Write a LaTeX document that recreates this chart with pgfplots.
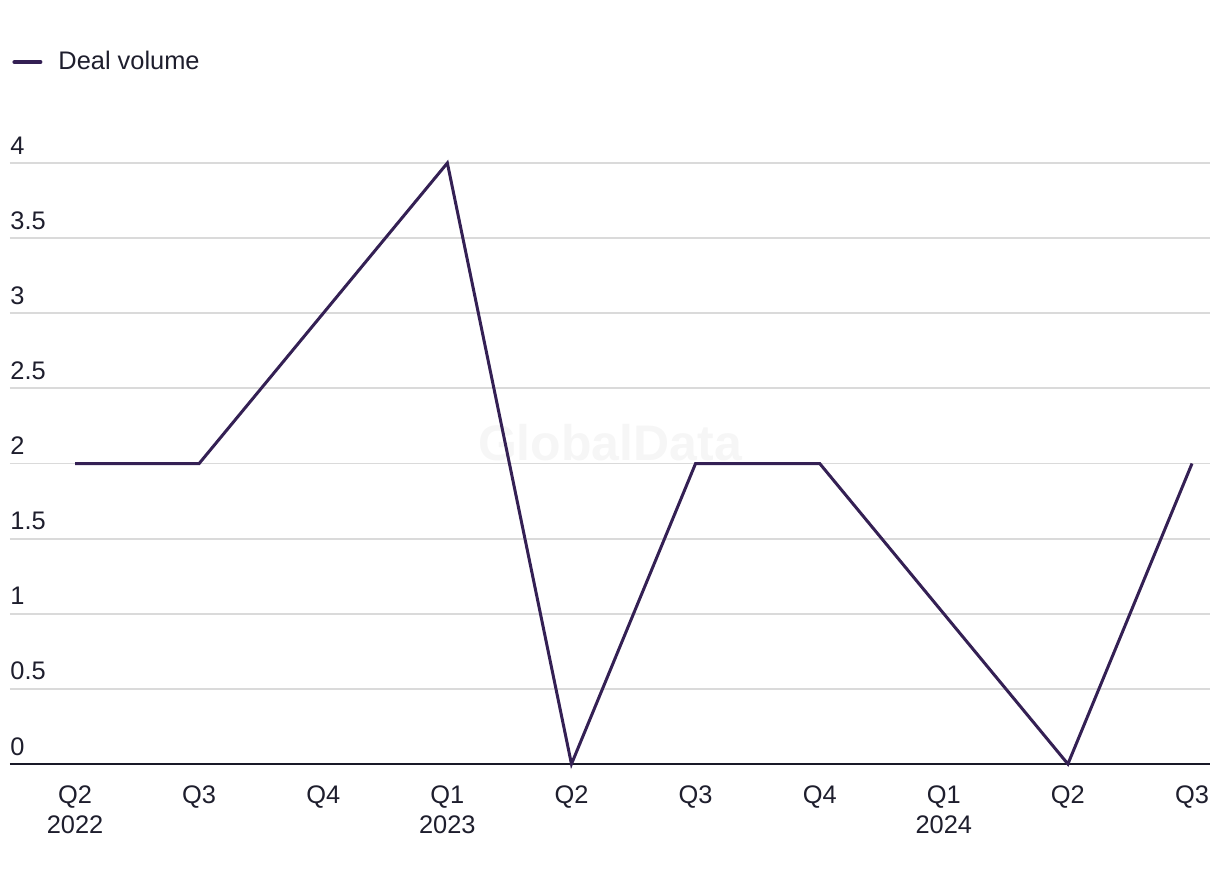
\documentclass[border=0pt]{standalone}
\usepackage{pgfplots}
\pgfplotsset{compat=1.18}
\usepackage{fontspec}
\setmainfont{Liberation Sans}
\definecolor{lineC}{RGB}{52,32,84}
\definecolor{txtC}{RGB}{30,30,45}
\definecolor{gridC}{RGB}{218,218,218}
\definecolor{axC}{RGB}{25,25,40}
\definecolor{wmC}{RGB}{246,246,246}
\begin{document}
\begin{tikzpicture}
\path[use as bounding box] (0,0) rectangle (610pt,442pt);
\begin{axis}[
  at={(5pt,60pt)}, anchor=south west,
  scale only axis, width=600pt, height=300.5pt,
  xmin=-0.524, xmax=9.145, ymin=0, ymax=4,
  clip=false,
  axis x line*=bottom, axis y line*=left,
  y axis line style={draw=none},
  x axis line style={draw=axC, line width=1pt, -},
  major tick length=0pt,
  ytick={0,0.5,...,4},
  ymajorgrids, grid style={draw=gridC, line width=0.9pt},
  xtick={0,...,9},
  xticklabels={{Q2\\2022},{Q3},{Q4},{Q1\\2023},{Q2},{Q3},{Q4},{Q1\\2024},{Q2},{Q3}},
  /pgf/number format/assume math mode=true,
  yticklabel={\pgfmathprintnumber[assume math mode=true]{\tick}},
  ticklabel style={font=\fontsize{12.7}{15}\selectfont, text=txtC},
  yticklabel style={anchor=base west, inner sep=0pt, yshift=4.5pt},
  xticklabel style={align=center, anchor=north, inner sep=0pt, yshift=-10.5pt},
  legend style={draw=none, fill=none, at={(axis description cs:0.0017,1.168)}, anchor=west,
    inner sep=0pt, nodes={inner sep=0pt, text=txtC, font=\fontsize{12.7}{15}\selectfont}, column sep=8pt},
  legend image code/.code={\draw[#1, line width=2pt, line cap=round] (0pt,0pt)--(13pt,0pt);},
]
\node[font=\bfseries\fontsize{25}{30}\selectfont, text=wmC] at (axis description cs:0.5,0.534) {GlobalData};
\addplot[color=lineC, line width=1.5pt, line join=miter] coordinates {
(0,2) (1,2) (2,3) (3,4) (4,0) (5,2) (6,2) (7,1) (8,0) (9,2)};
\addlegendentry{Deal volume}
\end{axis}
\end{tikzpicture}
\end{document}
